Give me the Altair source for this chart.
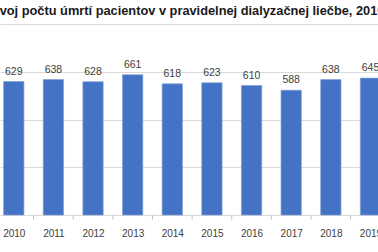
import altair as alt
import pandas as pd

years = [2010, 2011, 2012, 2013, 2014, 2015, 2016, 2017, 2018, 2019]
deaths = [629, 638, 628, 661, 618, 623, 610, 588, 638, 645]
grid_values = [0, 225, 450, 675, 900]
title_text = "Vývoj počtu  úmrtí pacientov v pravidelnej  dialyzačnej liečbe, 2010 - 2019"

df = pd.DataFrame({"year": years, "deaths": deaths})
bounds = pd.DataFrame({"b": [y + 0.5 for y in years[:-1]]})

W, H = 378, 191
FONT = "Liberation Sans"
xscale = alt.Scale(domain=[2009.779, 2019.064], nice=False, zero=False)
yscale = alt.Scale(domain=[0, 900], nice=False)

base = alt.Chart(df)
bars = base.mark_bar(size=20.3, color="#4472C4", stroke="#7f9fd6", strokeWidth=0.7).encode(
    x=alt.X("year:Q", scale=xscale,
            axis=alt.Axis(values=years, format="d", title=None, ticks=False, grid=False,
                          domainColor="#d9d9d9", labelFont=FONT, labelFontSize=10,
                          labelColor="#404040", labelPadding=13, labelFlush=False,
                          labelOverlap=False)),
    y=alt.Y("deaths:Q", scale=yscale,
            axis=alt.Axis(values=grid_values, labels=False, ticks=False, domain=False,
                          title=None, gridColor="#d9d9d9")),
)
labels = base.mark_text(dy=-7, baseline="alphabetic", fontSize=10.5, font=FONT,
                        color="#404040").encode(
    x="year:Q", y="deaths:Q", text="deaths:Q"
)
ticks = alt.Chart(bounds).mark_rule(color="#bfbfbf").encode(
    x="b:Q", y=alt.datum(0), y2=alt.value(H + 4.5)
)

chart = alt.layer(bars, labels, ticks).properties(
    width=W, height=H,
    padding={"left": 0, "top": 24, "right": 0, "bottom": 37},
    autosize=alt.AutoSizeParams(type="none"),
    title=alt.TitleParams(title_text, anchor="start", frame="group", dx=-16, offset=6,
                          font=FONT, fontSize=12.8, fontWeight="bold", color="#1a1a1a"),
).configure_view(stroke=None)

chart.save("out.html", embed_options={"renderer": "svg", "actions": False})
